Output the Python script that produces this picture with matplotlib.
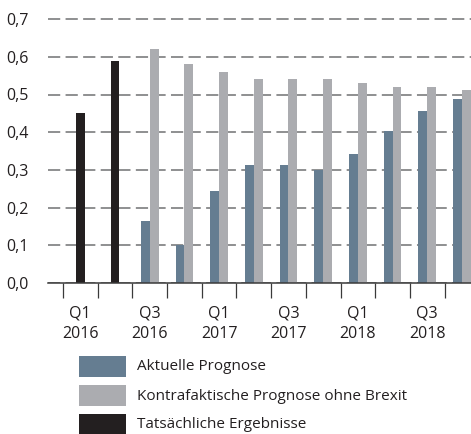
import matplotlib
matplotlib.use("Agg")
import matplotlib.pyplot as plt
from matplotlib.patches import Rectangle
import numpy as np

plt.rcParams['font.family'] = ['Open Sans', 'DejaVu Sans']

quarters = ["Q1\n2016", "Q2\n2016", "Q3\n2016", "Q4\n2016",
            "Q1\n2017", "Q2\n2017", "Q3\n2017", "Q4\n2017",
            "Q1\n2018", "Q2\n2018", "Q3\n2018", "Q4\n2018"]
tick_labels = ["Q1\n2016", "", "Q3\n2016", "", "Q1\n2017", "", "Q3\n2017", "",
               "Q1\n2018", "", "Q3\n2018", ""]
actual_idx = [0, 1]
actual = [0.45, 0.59]
forecast_idx = [2, 3, 4, 5, 6, 7, 8, 9, 10, 11]
aktuelle = [0.165, 0.10, 0.245, 0.313, 0.313, 0.30, 0.342, 0.403, 0.456, 0.488]
kontrafakt = [0.622, 0.581, 0.56, 0.541, 0.541, 0.541, 0.53, 0.52, 0.52, 0.512]
yticks = [0.0, 0.1, 0.2, 0.3, 0.4, 0.5, 0.6, 0.7]
ytick_labels = ["0,0", "0,1", "0,2", "0,3", "0,4", "0,5", "0,6", "0,7"]

legend_labels = ["Aktuelle Prognose", "Kontrafaktische Prognose ohne Brexit",
                 "Tatsächliche Ergebnisse"]

c_blue = "#657d91"
c_grey = "#abacb0"
c_black = "#231f20"
c_text = "#231f20"
legend_colors = [c_blue, c_grey, c_black]

W, H = 471, 434
fig = plt.figure(figsize=(W / 100, H / 100), dpi=100)

# axes geometry in pixels
x_left, x_right = 48, 471
y0_px = 283
px_per_unit = 37.7 / 0.1
ytop = 0.72
top_px = y0_px - ytop * px_per_unit
ax = fig.add_axes([x_left / W, (H - y0_px) / H, (x_right - x_left) / W, (y0_px - top_px) / H])

bw = 0.255
ax.bar(actual_idx, actual, width=bw, color=c_black, zorder=3)
fi = np.array(forecast_idx)
ax.bar(fi - bw / 2, aktuelle, width=bw, color=c_blue, zorder=3)
ax.bar(fi + bw / 2, kontrafakt, width=bw, color=c_grey, zorder=3)

ax.set_xlim(-0.93, 11.26)
ax.set_ylim(0, ytop)

ax.set_yticks(yticks)
ax.set_yticklabels(ytick_labels, fontsize=11.5, color=c_text)
ax.tick_params(axis='y', length=0, pad=14)
ax.yaxis.grid(True, color="#707173", linewidth=1.1, linestyle=(0, (8, 3.5)), zorder=1)

ax.set_xticks(np.arange(len(quarters)))
ax.set_xticklabels(tick_labels, fontsize=11.5, color=c_text, linespacing=1.4)
ax.tick_params(axis='x', which='major', length=0, pad=16)
ax.set_xticks(np.arange(len(quarters)) - 0.5, minor=True)
ax.tick_params(axis='x', which='minor', length=11, width=0.9, color="#3a3a3a", direction='out')

for s in ['top', 'right', 'left']:
    ax.spines[s].set_visible(False)
ax.spines['bottom'].set_color("#3a3a3a")
ax.spines['bottom'].set_linewidth(1.1)
ax.spines['bottom'].set_zorder(4)

# legend (swatches + labels), placed in figure pixels
row_tops = [356, 385, 414]
for top, col, lab in zip(row_tops, legend_colors, legend_labels):
    fig.add_artist(Rectangle((79 / W, 1 - (top + 21) / H), 47 / W, 21 / H,
                             transform=fig.transFigure, facecolor=col, edgecolor='none'))
    fig.text(137 / W, 1 - (top + 11) / H, lab, fontsize=11, color=c_text,
             ha='left', va='center')

fig.savefig("out.png", dpi=100)
